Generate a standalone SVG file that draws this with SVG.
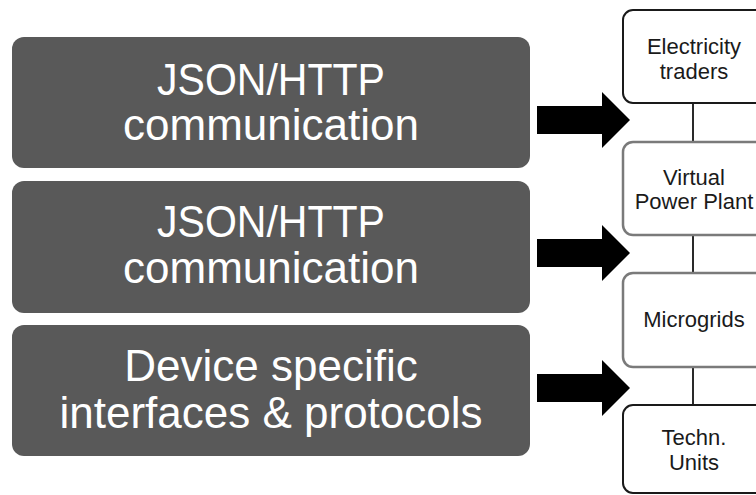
<svg xmlns="http://www.w3.org/2000/svg" width="756" height="495" viewBox="0 0 756 495">
<style>
.dark{fill:#595959;}
.dt{fill:#ffffff;font-family:"Liberation Sans",Arial,sans-serif;font-size:44px;text-anchor:middle;}
.lb{fill:#ffffff;stroke:#1a1a1a;stroke-width:2;}
.lg{fill:#ffffff;stroke:#7a7a7a;stroke-width:2.5;}
.rt{fill:#1a1a1a;font-family:"Liberation Sans",Arial,sans-serif;font-size:22px;text-anchor:middle;}
.conn{stroke:#2a2a2a;stroke-width:2;fill:none;}
.arr{fill:#000000;}
</style>
<rect width="756" height="495" fill="#ffffff"/>
<g id="layer-json-1">
<rect class="dark" x="12" y="37" width="518" height="131" rx="12"/>
<text class="dt" x="271" y="95" textLength="228" lengthAdjust="spacingAndGlyphs">JSON/HTTP</text>
<text class="dt" x="271" y="140">communication</text>
</g>
<g id="layer-json-2">
<rect class="dark" x="12" y="181" width="518" height="132" rx="12"/>
<text class="dt" x="271" y="237" textLength="228" lengthAdjust="spacingAndGlyphs">JSON/HTTP</text>
<text class="dt" x="271" y="283">communication</text>
</g>
<g id="layer-device">
<rect class="dark" x="12" y="325" width="518" height="131" rx="12"/>
<text class="dt" x="271" y="381">Device specific</text>
<text class="dt" x="271" y="428">interfaces &amp; protocols</text>
</g>
<g id="connectors">
<line class="conn" x1="693" y1="103" x2="693" y2="142"/>
<line class="conn" x1="693" y1="235" x2="693" y2="273"/>
<line class="conn" x1="693" y1="367" x2="693" y2="405"/>
<polygon class="arr" points="537,106 602,106 602,92 630,120 602,148 602,134 537,134"/>
<polygon class="arr" points="537,239 602,239 602,225 630,253 602,281 602,267 537,267"/>
<polygon class="arr" points="537,374 602,374 602,360 630,388 602,416 602,402 537,402"/>
</g>
<g id="electricity-traders">
<rect class="lb" x="623" y="10" width="145" height="93" rx="10"/>
<text class="rt" x="694" y="54">Electricity</text>
<text class="rt" x="694" y="79">traders</text>
</g>
<g id="virtual-power-plant">
<rect class="lg" x="623" y="142" width="145" height="93" rx="10"/>
<text class="rt" x="694" y="185">Virtual</text>
<text class="rt" x="694" y="209">Power Plant</text>
</g>
<g id="microgrids">
<rect class="lg" x="623" y="273" width="145" height="94" rx="10"/>
<text class="rt" x="694" y="327">Microgrids</text>
</g>
<g id="techn-units">
<rect class="lb" x="623" y="405" width="145" height="88" rx="10"/>
<text class="rt" x="694" y="445">Techn.</text>
<text class="rt" x="694" y="470">Units</text>
</g>
</svg>
